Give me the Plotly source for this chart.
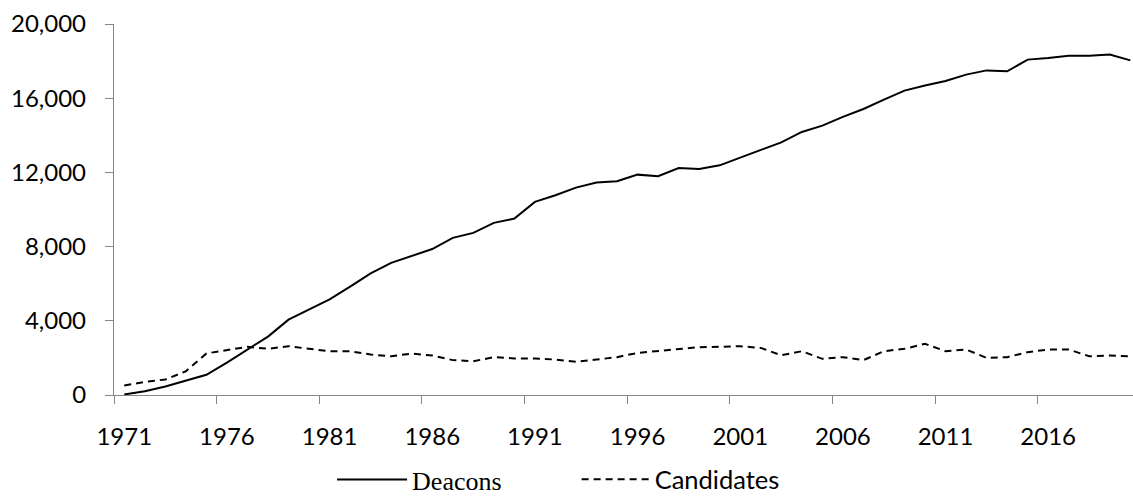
import plotly.graph_objects as go

years = list(range(1971, 2021))
deacons = [30, 200, 460, 790, 1090, 1750, 2450, 3150, 4060, 4620,
           5150, 5840, 6560, 7120, 7480, 7870, 8470, 8740, 9280, 9510,
           10410, 10770, 11180, 11450, 11520, 11880, 11790, 12240, 12190, 12380,
           12800, 13230, 13620, 14180, 14520, 14990, 15420, 15920, 16410, 16680,
           16930, 17270, 17500, 17450, 18080, 18170, 18290, 18290, 18350, 18040]
candidates = [510, 710, 835, 1280, 2240, 2410, 2600, 2490, 2630, 2490,
              2360, 2360, 2180, 2090, 2230, 2130, 1880, 1820, 2040, 1970,
              1970, 1910, 1790, 1910, 2040, 2270, 2360, 2490, 2580, 2600,
              2630, 2540, 2140, 2360, 1950, 2040, 1880, 2360, 2490, 2760,
              2360, 2450, 2000, 2040, 2310, 2450, 2450, 2090, 2130, 2090]
tick_years = [1971, 1976, 1981, 1986, 1991, 1996, 2001, 2006, 2011, 2016]
y_ticks = [0, 4000, 8000, 12000, 16000, 20000]

fig = go.Figure()
fig.add_trace(go.Scatter(x=years, y=deacons, mode="lines", name="Deacons",
                         line=dict(color="black", width=2), legend="legend"))
fig.add_trace(go.Scatter(x=years, y=candidates, mode="lines", name="Candidates",
                         line=dict(color="black", width=2, dash="7px,5px"), legend="legend2"))

axis_gray = "#868686"
fig.update_layout(
    width=1133, height=496,
    margin=dict(l=114, r=0, t=24, b=101, pad=0, autoexpand=False),
    plot_bgcolor="white", paper_bgcolor="white",
    font=dict(family="Lato", size=24, color="black"),
    showlegend=True,
    legend=dict(orientation="h", x=0.214, xanchor="left", y=-0.228, yanchor="middle",
                font=dict(family="Liberation Serif", size=26, color="black"),
                itemwidth=70, bgcolor="rgba(0,0,0,0)"),
    legend2=dict(orientation="h", x=0.454, xanchor="left", y=-0.228, yanchor="middle",
                 font=dict(family="Lato", size=25.5, color="black"),
                 itemwidth=68, bgcolor="rgba(0,0,0,0)"),
    xaxis=dict(range=[1970.5, 2020.13], tickvals=tick_years,
               ticktext=[str(t) for t in tick_years], ticks="",
               showline=True, linecolor=axis_gray, linewidth=1.3, automargin=False,
               showgrid=False, zeroline=False, ticklabelstandoff=20,
               minor=dict(tick0=1970.5, dtick=5, ticks="outside", ticklen=8,
                          tickcolor=axis_gray, tickwidth=1.3, showgrid=False)),
    yaxis=dict(range=[0, 20000], tickvals=y_ticks, tickformat=",",
               ticks="outside", ticklen=8, tickcolor=axis_gray, tickwidth=1.3,
               showline=True, linecolor=axis_gray, linewidth=1.3, automargin=False,
               showgrid=False, zeroline=False, ticklabelstandoff=14),
)

fig.write_html("out.html", config={"displayModeBar": False},
               post_script="document.body.style.margin='0';")
